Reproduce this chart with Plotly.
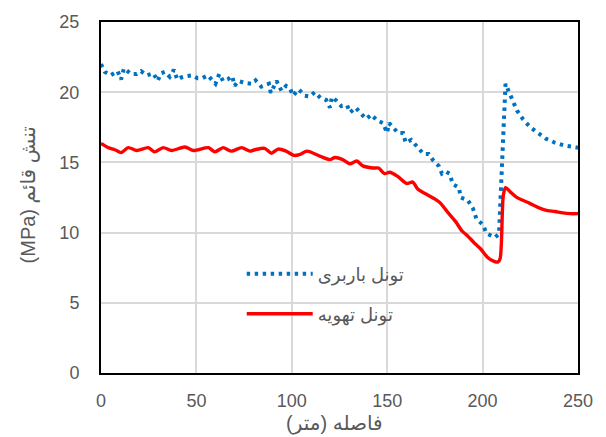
import plotly.graph_objects as go

# Blue series: تونل باربری
blue_x = [0, 2, 5, 8.7, 10.5, 12, 15.7, 18.7, 21, 24, 27.4, 29.7, 31.4, 33.5, 36, 38.2, 40, 42, 45, 47.6,
          50.6, 53, 56, 58.7, 60, 62, 64, 66.3, 68.8, 70, 72, 75.4, 79, 81, 84, 88, 89, 92, 94.6, 97,
          99.3, 100.6, 103.6, 106.8, 109.4, 112, 115, 118, 120, 121, 123.4, 126, 129, 130.5, 133.5,
          136.8, 139, 141.7, 144.6, 147.8, 149.9, 151, 153, 155.7, 158.3, 159.7, 162.6, 165.6, 169,
          171.7, 174.3, 177, 178.7, 180.6, 182.7, 184.4, 187.6, 188.5, 192.3, 195, 196.7, 200.2, 202,
          206.4, 208.6, 212, 214.3, 216, 218, 221, 225, 229, 233, 238, 243, 248, 250]
blue_y = [22.0, 21.45, 21.2, 21.5, 20.9, 21.7, 21.3, 21.3, 21.5, 21.2, 21.35, 20.8, 21.35, 21.45, 21.1,
          21.6, 20.9, 21.05, 21.15, 21.2, 21.0, 21.0, 21.2, 20.8, 20.6, 21.3, 20.8, 20.9, 21.15, 20.45,
          20.8, 20.65, 20.6, 20.85, 20.4, 20.6, 19.95, 20.8, 20.1, 20.45, 20.2, 19.75, 20.2, 19.75, 19.7,
          20.0, 19.6, 19.45, 18.9, 19.65, 19.4, 19.0, 19.05, 18.55, 18.9, 18.4, 18.1, 18.4, 18.0, 17.8,
          17.1, 17.8, 17.5, 17.1, 17.1, 16.4, 16.6, 16.15, 15.6, 15.6, 15.1, 14.75, 14.2, 14.35, 14.2,
          13.45, 13.2, 12.5, 12.3, 11.7, 11.0, 10.55, 9.95, 9.65, 9.9, 20.6, 19.85, 19.2, 18.7, 18.1,
          17.5, 17.1, 16.7, 16.4, 16.2, 16.1, 16.05]

# Red series: تونل تهویه
red_x = [0, 0.7, 3.8, 7.3, 10.5, 14.3, 18.7, 24.8, 28, 32.6, 37, 44, 48.5, 56.3, 59.7, 64, 68.4, 73.7,
         78, 80.6, 85.8, 89.3, 92.8, 97, 101, 104, 108, 114.7, 120, 122.6, 126.7, 130.4, 134, 137.2,
         142.4, 145.5, 148.6, 151.3, 155.5, 160.2, 163.4, 166, 169.6, 174.9, 177.9, 181.4, 185.8, 189.3,
         191.9, 195.4, 198.9, 202.5, 206, 208, 209.2, 210.8, 212, 214.5, 217.5, 221, 224.5, 229, 233,
         238, 242, 246, 250]
red_y = [16.35, 16.3, 16.05, 15.9, 15.7, 16.05, 15.85, 16.05, 15.75, 16.05, 15.85, 16.1, 15.85, 16.05,
         15.75, 16.05, 15.8, 16.05, 15.8, 15.9, 16.0, 15.65, 15.95, 15.8, 15.5, 15.55, 15.8, 15.45, 15.2,
         15.35, 15.2, 14.9, 15.1, 14.75, 14.6, 14.6, 14.2, 14.3, 14.0, 13.5, 13.6, 13.1, 12.8, 12.4,
         12.1, 11.5, 10.8, 10.1, 9.8, 9.3, 8.85, 8.25, 7.95, 7.9, 8.15, 12.6, 13.2, 12.9, 12.55, 12.3,
         12.1, 11.8, 11.6, 11.5, 11.4, 11.35, 11.35]

blue_name = "تونل باربری"
red_name = "تونل تهویه"
x_title = "فاصله (متر)"
y_title = "(MPa) تنش قائم"
x_ticks = [0, 50, 100, 150, 200, 250]
y_ticks = [0, 5, 10, 15, 20, 25]

GRAY = "#595959"
FONT = "Liberation Sans, DejaVu Sans, sans-serif"

fig = go.Figure()
fig.add_trace(go.Scatter(x=blue_x, y=blue_y, mode="lines", name=blue_name,
                         line=dict(color="#0070C0", width=4, dash="3.4px,4.6px"),
                         legend="legend"))
fig.add_trace(go.Scatter(x=red_x, y=red_y, mode="lines", name=red_name,
                         line=dict(color="#FF0000", width=3.4, shape="spline", smoothing=0.7),
                         legend="legend2"))

axis_common = dict(showgrid=True, gridcolor="#D9D9D9", gridwidth=1.5, zeroline=False,
                   showline=True, mirror=True, linecolor="black", linewidth=2,
                   ticks="", tickfont=dict(size=18, color=GRAY, family=FONT))

fig.update_xaxes(range=[0, 250], tickvals=x_ticks, ticklabelstandoff=10, **axis_common)
fig.update_yaxes(range=[0, 25], tickvals=y_ticks, ticklabelstandoff=16, **axis_common)

legend_common = dict(bgcolor="rgba(0,0,0,0)", font=dict(size=18, color=GRAY, family=FONT),
                     itemwidth=66, xanchor="left", yanchor="middle", x=0.295)
fig.update_layout(
    width=606, height=437,
    margin=dict(l=101, r=28, t=15, b=64),
    paper_bgcolor="white", plot_bgcolor="white",
    showlegend=True,
    legend=dict(y=0.282, **legend_common),
    legend2=dict(y=0.168, **legend_common),
    annotations=[
        dict(text=x_title, xref="paper", yref="paper", x=0.49, y=-0.1425, showarrow=False,
             xanchor="center", yanchor="middle", font=dict(size=20, color=GRAY, family=FONT)),
        dict(text=y_title, xref="paper", yref="paper", x=-0.153, y=0.506, showarrow=False,
             textangle=-90, xanchor="center", yanchor="middle",
             font=dict(size=20, color=GRAY, family=FONT)),
    ],
)

fig.write_html("out.html", config={"displayModeBar": False},
               post_script="document.body.style.margin='0px';")
